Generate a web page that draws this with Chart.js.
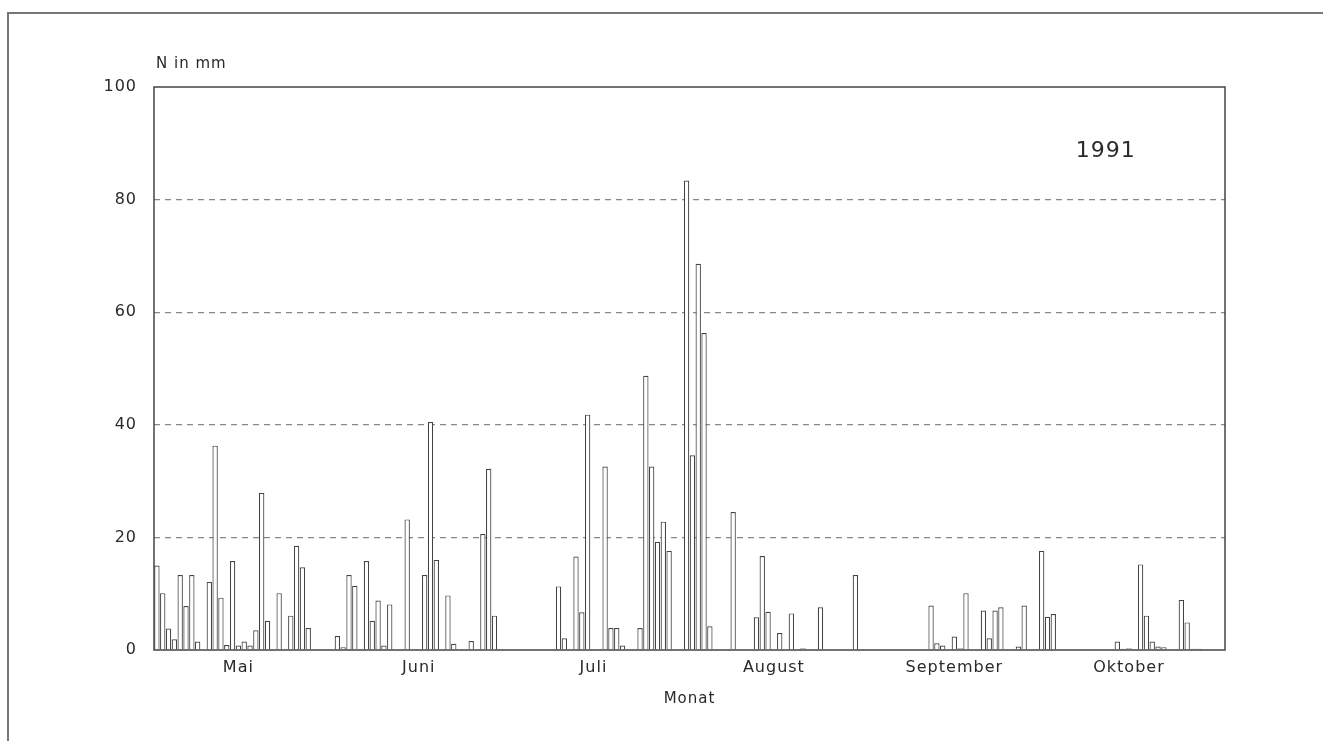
<!DOCTYPE html>
<html>
<head>
<meta charset="utf-8">
<script src="https://cdn.jsdelivr.net/npm/chart.js@4"></script>
<style>
  html, body { margin: 0; padding: 0; background: #fff; }
  #rahmen { position: absolute; left: 7px; top: 12px; width: 1330px; height: 740px; border-left: 2px solid #777; border-top: 2px solid #777; }
  #wrap { position: absolute; left: 0; top: 0; width: 1323px; height: 741px; }
</style>
</head>
<body>
<div id="rahmen"></div>
<div id="wrap"><canvas id="grafik" width="1323" height="741"></canvas></div>
<script>
// Tagesniederschlag 1991 (mm), je Monat
const mai = [15.0, 10.1, 3.8, 1.9, 13.3, 7.8, 13.3, 1.5, 0, 12.1, 36.3, 9.3, 0.9, 15.8, 0.8, 1.5, 0.8, 3.5, 27.9, 5.2, 0, 10.1, 0, 6.1, 18.5, 14.7, 3.9, 0, 0, 0, 0];
const juni = [2.5, 0.5, 13.3, 11.4, 0, 15.8, 5.2, 8.8, 0.8, 8.1, 0, 0, 23.2, 0, 0, 13.3, 40.5, 16.0, 0, 9.7, 1.1, 0, 0, 1.6, 0, 20.6, 32.2, 6.1, 0, 0];
const juli = [0, 0, 0, 0, 0, 0, 0, 0, 11.3, 2.1, 0, 16.6, 6.7, 41.8, 0, 0, 32.6, 3.9, 3.9, 0.8, 0, 0, 3.9, 48.7, 32.6, 19.2, 22.8, 17.6, 0, 0, 83.4];
const august = [34.6, 68.6, 56.3, 4.2, 0, 0, 0, 24.5, 0, 0, 0, 5.8, 16.7, 6.8, 0, 3.0, 0, 6.5, 0, 0.3, 0, 0, 7.6, 0, 0, 0, 0, 0, 13.3, 0, 0];
const september = [0, 0, 0, 0, 0, 0, 0, 0, 0, 0, 7.9, 1.2, 0.8, 0, 2.4, 0.3, 10.1, 0, 0, 7.0, 2.1, 7.0, 7.6, 0, 0, 0.6, 7.9, 0, 0, 17.6];
const oktober = [5.9, 6.4, 0, 0, 0, 0, 0, 0, 0, 0, 0, 0, 1.5, 0.2, 0.3, 0, 15.2, 6.1, 1.5, 0.6, 0.5, 0, 0, 8.9, 4.9, 0.2, 0.2, 0, 0, 0, 0];

const monate = ['Mai', 'Juni', 'Juli', 'August', 'September', 'Oktober'];
const yTicks = [0, 20, 40, 60, 80, 100];

const alleMonate = [mai, juni, juli, august, september, oktober];
const werte = [];
const tage = [];
const monatsMitte = {};
alleMonate.forEach((m, i) => {
    monatsMitte[werte.length + Math.floor(m.length / 2) - 1] = monate[i];
    m.forEach((v, d) => {
        werte.push(v);
        tage.push((d + 1) + '. ' + monate[i]);
    });
});

const schrift = "'DejaVu Sans', sans-serif";
const textFarbe = '#2a2a2a';

const rahmenPlugin = {
    id: 'rahmen',
    beforeDraw(chart) {
        chart.ctx.letterSpacing = '1px';
    },
    afterDatasetsDraw(chart) {
        const a = chart.chartArea;
        const ctx = chart.ctx;
        ctx.save();
        ctx.strokeStyle = '#444';
        ctx.lineWidth = 1.5;
        ctx.strokeRect(a.left, a.top, a.right - a.left, a.bottom - a.top);
        ctx.fillStyle = textFarbe;
        ctx.font = '15px ' + schrift;
        ctx.textBaseline = 'middle';
        ctx.textAlign = 'left';
        ctx.fillText('N in mm', a.left + 2, a.top - 23);
        ctx.font = '22px ' + schrift;
        ctx.textAlign = 'center';
        ctx.fillText('1991', chart.scales.x.getPixelForValue(163), chart.scales.y.getPixelForValue(88.5));
        ctx.restore();
    }
};

new Chart(document.getElementById('grafik'), {
    type: 'bar',
    data: {
        labels: tage,
        datasets: [{
            data: werte,
            backgroundColor: '#fff',
            borderColor: '#444',
            borderWidth: 1.2,
            barPercentage: 1,
            categoryPercentage: 0.92
        }]
    },
    options: {
        responsive: false,
        animation: false,
        layout: { padding: { top: 87, right: 98, left: 0, bottom: 0 } },
        plugins: { legend: { display: false }, tooltip: { enabled: false } },
        scales: {
            x: {
                grid: { display: false },
                border: { display: false },
                ticks: {
                    autoSkip: false,
                    maxRotation: 0,
                    padding: 0,
                    color: textFarbe,
                    font: { family: schrift, size: 16 },
                    callback: (v, i) => monatsMitte[i] || ''
                },
                title: {
                    display: true,
                    text: 'Monat',
                    color: textFarbe,
                    font: { family: schrift, size: 15 },
                    padding: { top: 0, bottom: 33 }
                },
                afterFit: (s) => { s.height = 91; }
            },
            y: {
                min: 0,
                max: 100,
                afterBuildTicks: (s) => { s.ticks = yTicks.map(v => ({ value: v })); },
                grid: {
                    drawTicks: false,
                    color: (c) => (c.tick.value === 0 || c.tick.value === 100) ? 'rgba(0,0,0,0)' : '#888',
                    lineWidth: 1.2
                },
                border: { display: false, dash: [6, 5] },
                ticks: {
                    padding: 17,
                    color: textFarbe,
                    font: { family: schrift, size: 16 }
                },
                afterFit: (s) => { s.width = 154; }
            }
        }
    },
    plugins: [rahmenPlugin]
});
</script>
</body>
</html>
